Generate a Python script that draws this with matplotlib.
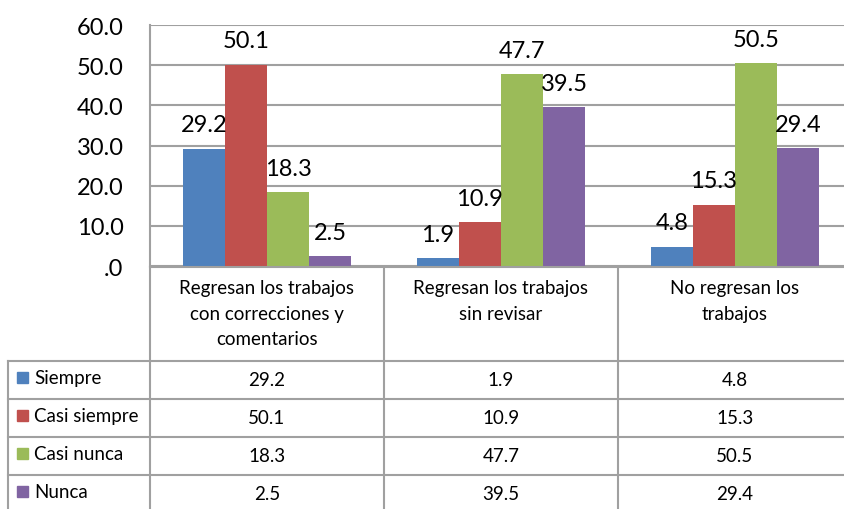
import matplotlib
matplotlib.use("Agg")
import matplotlib.pyplot as plt
from matplotlib.patches import Rectangle
from matplotlib.lines import Line2D

plt.rcParams['font.family'] = ['Lato', 'DejaVu Sans']

categories = ["Regresan los trabajos\ncon correcciones y\ncomentarios",
              "Regresan los trabajos\nsin revisar",
              "No regresan los\ntrabajos"]
series_names = ["Siempre", "Casi siempre", "Casi nunca", "Nunca"]
siempre = [29.2, 1.9, 4.8]
casi_siempre = [50.1, 10.9, 15.3]
casi_nunca = [18.3, 47.7, 50.5]
nunca = [2.5, 39.5, 29.4]
series_values = [siempre, casi_siempre, casi_nunca, nunca]
colors = ["#4F81BD", "#C0504D", "#9BBB59", "#8064A2"]
yticks = [0, 10, 20, 30, 40, 50, 60]

W, H = 845, 510
fig = plt.figure(figsize=(W / 100, H / 100), dpi=100)

# chart geometry in pixels
x0, y_top, y_bot = 150, 26, 267
col_w = 234
x_right = x0 + col_w * len(categories)
grid_col = "#A0A0A0"

ax = fig.add_axes([x0 / W, 1 - y_bot / H, (x_right - x0) / W, (y_bot - y_top) / H])
ax.set_xlim(-0.5, len(categories) - 0.5)
ax.set_ylim(0, 60)
ax.set_yticks(yticks)
ax.set_yticklabels([("%.1f" % v).lstrip("0") if v == 0 else "%.1f" % v for v in yticks],
                   fontsize=17)
ax.tick_params(axis='y', length=0, pad=19)
ax.set_xticks([])
ax.grid(axis='y', color=grid_col, lw=1.5)
ax.set_axisbelow(True)
for s in ['top', 'right', 'bottom']:
    ax.spines[s].set_visible(False)
ax.spines['left'].set_color(grid_col)
ax.spines['left'].set_linewidth(1.5)

bw = 0.18
for i, (vals, c) in enumerate(zip(series_values, colors)):
    xs = [k + (i - 1.5) * bw for k in range(len(categories))]
    ax.bar(xs, vals, width=bw, color=c, zorder=2)
    for x, v in zip(xs, vals):
        ax.annotate("%.1f" % v, (x, v), xytext=(0, 12.5), textcoords='offset points',
                    ha='center', va='baseline', fontsize=17, zorder=3)

# table overlay in pixel coordinates
tax = fig.add_axes([0, 0, 1, 1])
tax.set_xlim(0, W)
tax.set_ylim(H, 0)
tax.axis('off')
tax.patch.set_alpha(0)

hdr_top, hdr_bot = 268, 362
row_h = 38
leg_left = 8
lw = 1.5
tfs = 13.5

def hline(x1, x2, y):
    tax.add_line(Line2D([x1, x2], [y, y], color=grid_col, lw=lw))

def vline(x, y1, y2):
    tax.add_line(Line2D([x, x], [y1, y2], color=grid_col, lw=lw))

n_rows = len(series_names)
table_bottom = hdr_bot + row_h * n_rows
hline(x0, x_right, hdr_top)
vline(leg_left, hdr_bot, table_bottom)
for k in range(len(categories) + 1):
    vline(x0 + k * col_w, hdr_top, table_bottom)
for r in range(n_rows + 1):
    hline(leg_left, x_right, hdr_bot + r * row_h)

for k, cat in enumerate(categories):
    tax.text(x0 + (k + 0.5) * col_w, 280, cat, ha='center', va='top',
             fontsize=tfs, linespacing=1.62)

for r, (name, c, vals) in enumerate(zip(series_names, colors, series_values)):
    yc = hdr_bot + (r + 0.5) * row_h
    tax.add_patch(Rectangle((17, yc - 8), 11, 11, color=c))
    tax.text(34, yc - 2, name, ha='left', va='center', fontsize=tfs)
    for k, v in enumerate(vals):
        tax.text(x0 + (k + 0.5) * col_w, yc, "%.1f" % v, ha='center', va='center',
                 fontsize=tfs)

fig.savefig("out.png", dpi=100)
